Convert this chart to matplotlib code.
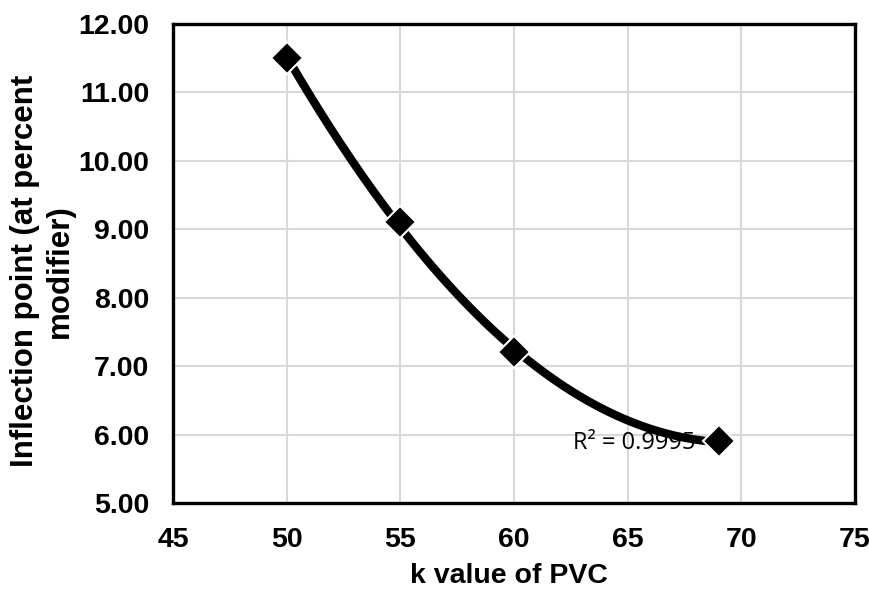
import numpy as np
import matplotlib
matplotlib.use('Agg')
import matplotlib.pyplot as plt

# k value vs inflection point
k_value = [50, 55, 60, 69]
inflection = [11.5, 9.1, 7.2, 5.9]
r2_text = 'R² = 0.9995'

x_ticks = [45, 50, 55, 60, 65, 70, 75]
y_ticks = [5, 6, 7, 8, 9, 10, 11, 12]

plt.rcParams['font.family'] = ['Liberation Sans', 'DejaVu Sans']

fig = plt.figure(figsize=(8.7, 5.92), dpi=100)
ax = fig.add_axes([173 / 870, 1 - 503 / 592, (855 - 173) / 870, (503 - 24) / 592])

# second order trendline
coef = np.polyfit(k_value, inflection, 2)
xs = np.linspace(min(k_value), max(k_value), 200)
ax.plot(xs, np.polyval(coef, xs), color='black', lw=6, solid_capstyle='round', zorder=3)

ax.plot(k_value, inflection, linestyle='none', marker='D', ms=16,
        color='black', markeredgecolor='white', mew=1.5, zorder=4)

ax.text(62.6, 5.87, r2_text, ha='left', va='center', fontsize=17,
        family=['Open Sans', 'DejaVu Sans'], zorder=2)

ax.set_xlim(45, 75)
ax.set_ylim(5, 12)
ax.set_xticks(x_ticks)
ax.set_yticks(y_ticks)
ax.set_yticklabels([f'{v:.2f}' for v in y_ticks])
ax.grid(True, color='#d9d9d9', lw=1.5)
ax.set_axisbelow(True)
ax.tick_params(length=0, labelsize=20.5, pad=17)
for lab in ax.get_xticklabels() + ax.get_yticklabels():
    lab.set_fontweight('bold')
for sp in ax.spines.values():
    sp.set_linewidth(2.4)
    sp.set_color('black')

ax.set_xlabel('k value of PVC', fontsize=20.5, fontweight='bold')
ax.set_ylabel('Inflection point (at percent\nmodifier)', fontsize=22.5,
              fontweight='bold', linespacing=1.2)
ax.xaxis.set_label_coords(0.493, -0.125)
ax.yaxis.set_label_coords(-0.144, 0.485)

fig.savefig('out.png', dpi=100)
